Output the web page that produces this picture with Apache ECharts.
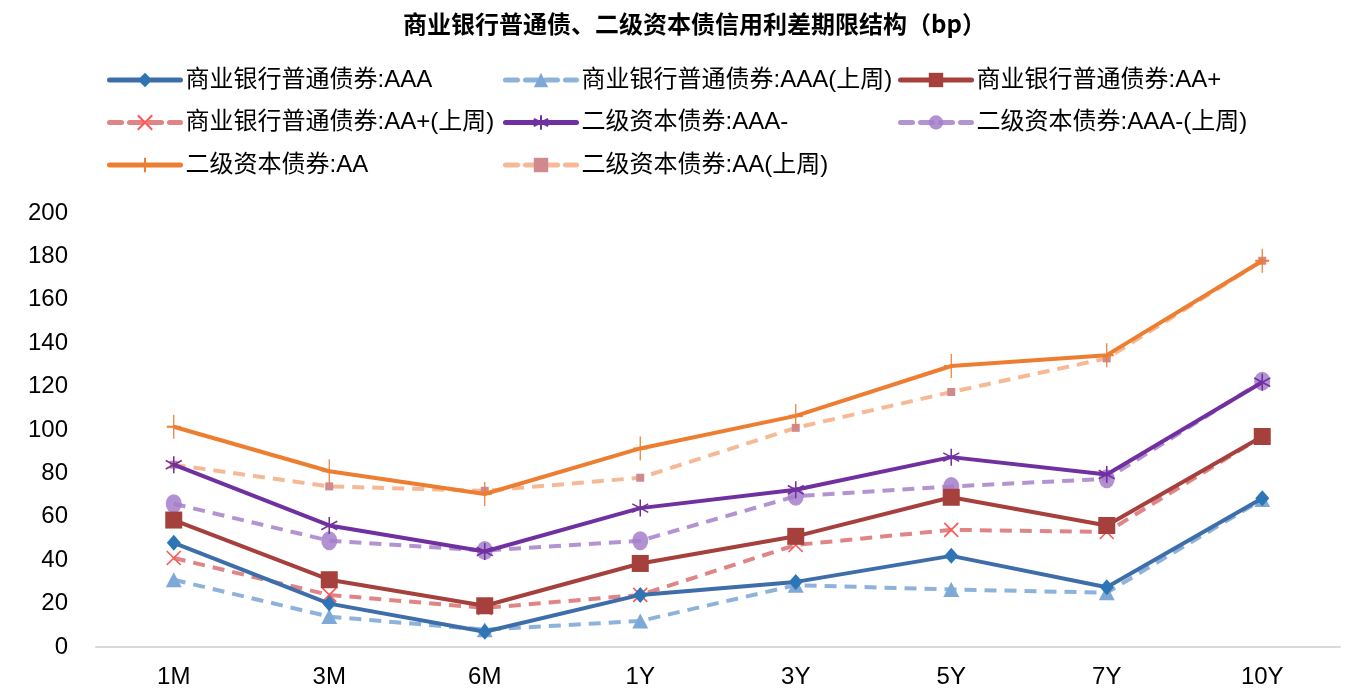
<!DOCTYPE html>
<html>
<head>
<meta charset="utf-8">
<script src="https://cdn.jsdelivr.net/npm/echarts@6/dist/echarts.min.js"></script>
<style>html,body{margin:0;padding:0;background:#fff}#c{width:1346px;height:689px}</style>
</head>
<body>
<div id="c"></div>
<script>
var categories = ['1M','3M','6M','1Y','3Y','5Y','7Y','10Y'];
var yTicks = [0,20,40,60,80,100,120,140,160,180,200];
var seriesNames = ['商业银行普通债券:AAA','商业银行普通债券:AAA(上周)','商业银行普通债券:AA+','商业银行普通债券:AA+(上周)','二级资本债券:AAA-','二级资本债券:AAA-(上周)','二级资本债券:AA','二级资本债券:AA(上周)'];
var bankAAA      = [48, 20, 7, 24, 30, 42, 27.5, 68.5];
var bankAAAPrev  = [31, 14, 8, 12, 28.5, 26.5, 25, 68];
var bankAAp      = [58.5, 31, 19, 38.5, 51, 69, 56, 97];
var bankAApPrev  = [41, 24, 18, 24, 47, 54, 53, 97];
var capAAAm      = [84, 56, 44, 64, 72.5, 87.5, 79.5, 122];
var capAAAmPrev  = [66, 49, 44.5, 49, 69.5, 74, 77.5, 122.5];
var capAA        = [101.5, 81, 70.5, 91.5, 106.5, 129.5, 134.5, 178];
var capAAPrev    = [84, 74, 72, 78, 101, 117.5, 133, 178];

var dataList = [bankAAA, bankAAAPrev, bankAAp, bankAApPrev, capAAAm, capAAAmPrev, capAA, capAAPrev];
var styles = [
  {line:'#3E6EAA', mark:'#2E75B6', dash:'solid', symbol:'diamond', size:[14,16], z:10},
  {line:'#8DB3DA', mark:'#7EA9D6', dash:[12,8], symbol:'triangle', size:[16,15], z:3},
  {line:'#A5403D', mark:'#A5403D', dash:'solid', symbol:'rect', size:[17,17], z:9},
  {line:'#E08585', mark:'#FF5555', dash:[12,8], symbol:'path://M0,0L10,10M10,0L0,10', size:[14,14], z:4, stroke:true},
  {line:'#7030A0', mark:'#7030A0', dash:'solid', symbol:'path://M5,0L5,10M0.7,2.5L9.3,7.5M9.3,2.5L0.7,7.5', size:[16,17], z:8, stroke:true},
  {line:'#B394D1', mark:'#A47ECA', dash:[12,8], symbol:'circle', size:[16,19], z:5, opacity:0.85},
  {line:'#ED7D31', mark:'#ED7D31', dash:'solid', symbol:'path://M5,0L5,10M0,5L10,5', size:[14,24], z:7, stroke:true},
  {line:'#F5BA95', mark:'#D08A8E', dash:[12,8], symbol:'rect', size:[8,8], z:6}
];

var series = seriesNames.map(function(n, i){
  var s = styles[i];
  var itemStyle = s.stroke ? {color: s.mark, borderColor: s.mark, borderWidth: 1.6} : {color: s.mark, opacity: s.opacity || 1};
  return {
    name: n, type: 'line', data: dataList[i], z: s.z,
    symbol: s.symbol, symbolSize: s.size, showAllSymbol: true,
    lineStyle: {color: s.line, width: 4, type: s.dash, cap: 'butt'},
    itemStyle: itemStyle,
    emphasis: {disabled: true}, animation: false
  };
});

function legendCol(left, idxs){
  return {
    orient: 'vertical', left: left, top: 68, padding: 0, itemWidth: 71, itemHeight: 18, itemGap: 18.5,
    data: idxs.map(function(i){return seriesNames[i];}),
    lineStyle: {width: 5, cap: 'round'},
    textStyle: {fontSize: 24, color: '#000', fontFamily: 'Liberation Sans, "Noto Sans CJK SC", sans-serif'},
    selectedMode: false
  };
}

var chart = echarts.init(document.getElementById('c'));
chart.setOption({
  backgroundColor: '#fff',
  animation: false,
  title: {
    text: '商业银行普通债、二级资本债信用利差期限结构（bp）',
    left: 398, top: 7,
    textStyle: {fontSize: 24, fontWeight: 'bold', color: '#000', fontFamily: '"Noto Sans CJK SC", sans-serif'}
  },
  legend: [legendCol(107, [0,3,6]), legendCol(503, [1,4,7]), legendCol(898, [2,5])],
  grid: {left: 96, right: 6, top: 213, bottom: 42, containLabel: false},
  xAxis: {
    type: 'category', data: categories, boundaryGap: true,
    axisLine: {lineStyle: {color: '#D9D9D9', width: 2}},
    axisTick: {show: false},
    axisLabel: {fontSize: 24, color: '#000', margin: 18, fontFamily: 'Liberation Sans, sans-serif'}
  },
  yAxis: {
    type: 'value', min: yTicks[0], max: yTicks[yTicks.length-1], interval: 20,
    axisLine: {show: false}, axisTick: {show: false}, splitLine: {show: false},
    axisLabel: {fontSize: 24, color: '#000', margin: 28, fontFamily: 'Liberation Sans, sans-serif'}
  },
  series: series
});
</script>
</body>
</html>
